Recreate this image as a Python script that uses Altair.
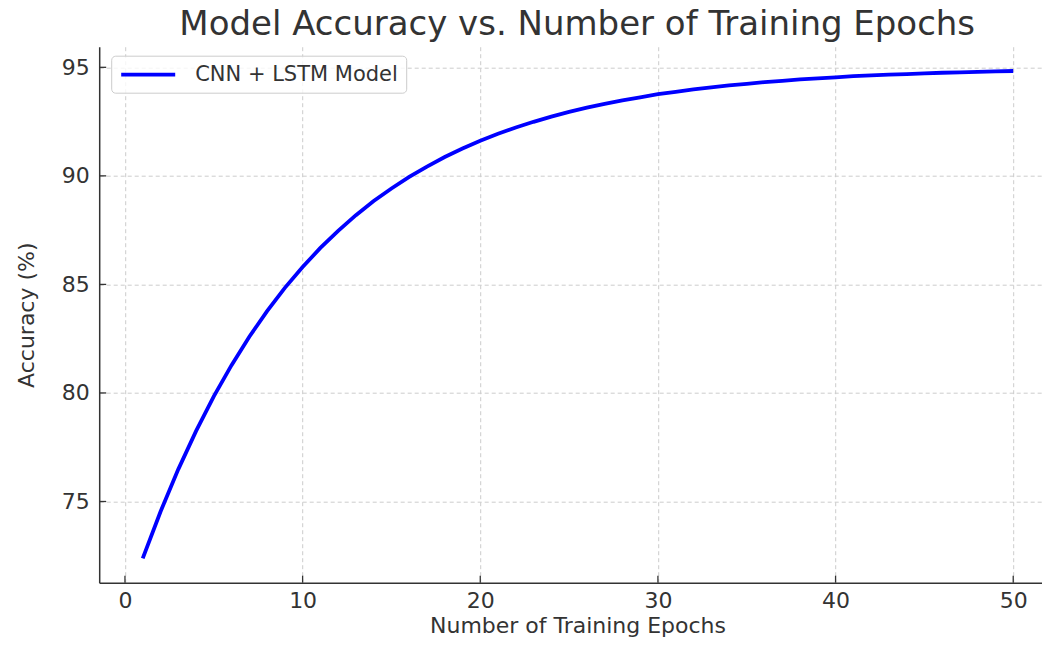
import altair as alt
import pandas as pd

# ---- data ----
epochs = list(range(1, 51))
accuracy = [72.38, 74.53, 76.48, 78.24, 79.84, 81.28, 82.59, 83.77, 84.84, 85.80,
            86.68, 87.47, 88.19, 88.84, 89.42, 89.95, 90.43, 90.87, 91.26, 91.62,
            91.94, 92.23, 92.49, 92.73, 92.95, 93.14, 93.32, 93.48, 93.62, 93.76,
            93.87, 93.98, 94.08, 94.17, 94.24, 94.32, 94.38, 94.44, 94.49, 94.54,
            94.59, 94.63, 94.66, 94.69, 94.72, 94.75, 94.77, 94.79, 94.81, 94.83]
series_name = "CNN + LSTM Model"
x_ticks = [0, 10, 20, 30, 40, 50]
y_ticks = [75, 80, 85, 90, 95]

FONT = "DejaVu Sans"
TXT = "#333333"
W, H = 943, 536
x_dom = [-1.45, 51.63]
y_dom = [71.26, 95.95]

df = pd.DataFrame({"epoch": epochs, "accuracy": accuracy, "series": [series_name] * len(epochs)})

xs = alt.Scale(domain=x_dom, nice=False, zero=False)
ys = alt.Scale(domain=y_dom, nice=False, zero=False)

x_axis = alt.Axis(
    values=x_ticks, title="Number of Training Epochs", grid=True, ticks=False,
    labelPadding=8, labelFontSize=22, labelFlush=False,
    titleFontSize=22, titleBaseline="alphabetic", titleY=49.8, titleX=478.3)
y_axis = alt.Axis(
    values=y_ticks, title="Accuracy (%)", grid=True, ticks=False,
    labelPadding=10, labelFontSize=22, labelFlush=False,
    titleFontSize=22, titleX=-72.7, titleBaseline="middle")

line = alt.Chart(df).mark_line(strokeWidth=3.8).encode(
    x=alt.X("epoch:Q", scale=xs, axis=x_axis),
    y=alt.Y("accuracy:Q", scale=ys, axis=y_axis),
    color=alt.Color("series:N", scale=alt.Scale(range=["#0000ff"]), legend=alt.Legend(
        title=None, orient="none", legendX=12, legendY=9,
        padding=8, strokeColor="#cccccc", cornerRadius=4,
        fillColor="rgba(255,255,255,0.8)",
        symbolType="M-1,0H5", symbolSize=324, symbolStrokeWidth=3.8,
        labelFontSize=21, labelFont=FONT, labelColor=TXT, labelOffset=54,
        labelLimit=500)),
)

xtick_df = pd.DataFrame({"epoch": x_ticks})
ytick_df = pd.DataFrame({"accuracy": y_ticks})
xt = alt.Chart(xtick_df).mark_rule(color=TXT, strokeWidth=1.3).encode(
    x=alt.X("epoch:Q", scale=xs, axis=x_axis), y=alt.value(H), y2=alt.value(H - 7))
yt = alt.Chart(ytick_df).mark_rule(color=TXT, strokeWidth=1.3).encode(
    y=alt.Y("accuracy:Q", scale=ys, axis=y_axis), x=alt.value(0), x2=alt.value(7))

chart = alt.layer(line, xt, yt).properties(
    width=W, height=H,
    title=alt.Title("Model Accuracy vs. Number of Training Epochs", fontSize=34,
                    font=FONT, fontWeight="normal", color=TXT, offset=4.5, dx=6.5),
    autosize=alt.AutoSizeParams(type="none"),
    padding={"left": 91.2, "top": 38.7, "right": 0, "bottom": 55},
).configure_view(stroke=None).configure_axis(
    labelFont=FONT, titleFont=FONT, labelColor=TXT, titleColor=TXT,
    titleFontWeight="normal", domainColor=TXT, domainWidth=1.5,
    gridColor="#cccccc", gridDash=[4, 3], gridWidth=1,
)

chart.save("out.html", embed_options={"renderer": "svg", "actions": False})
